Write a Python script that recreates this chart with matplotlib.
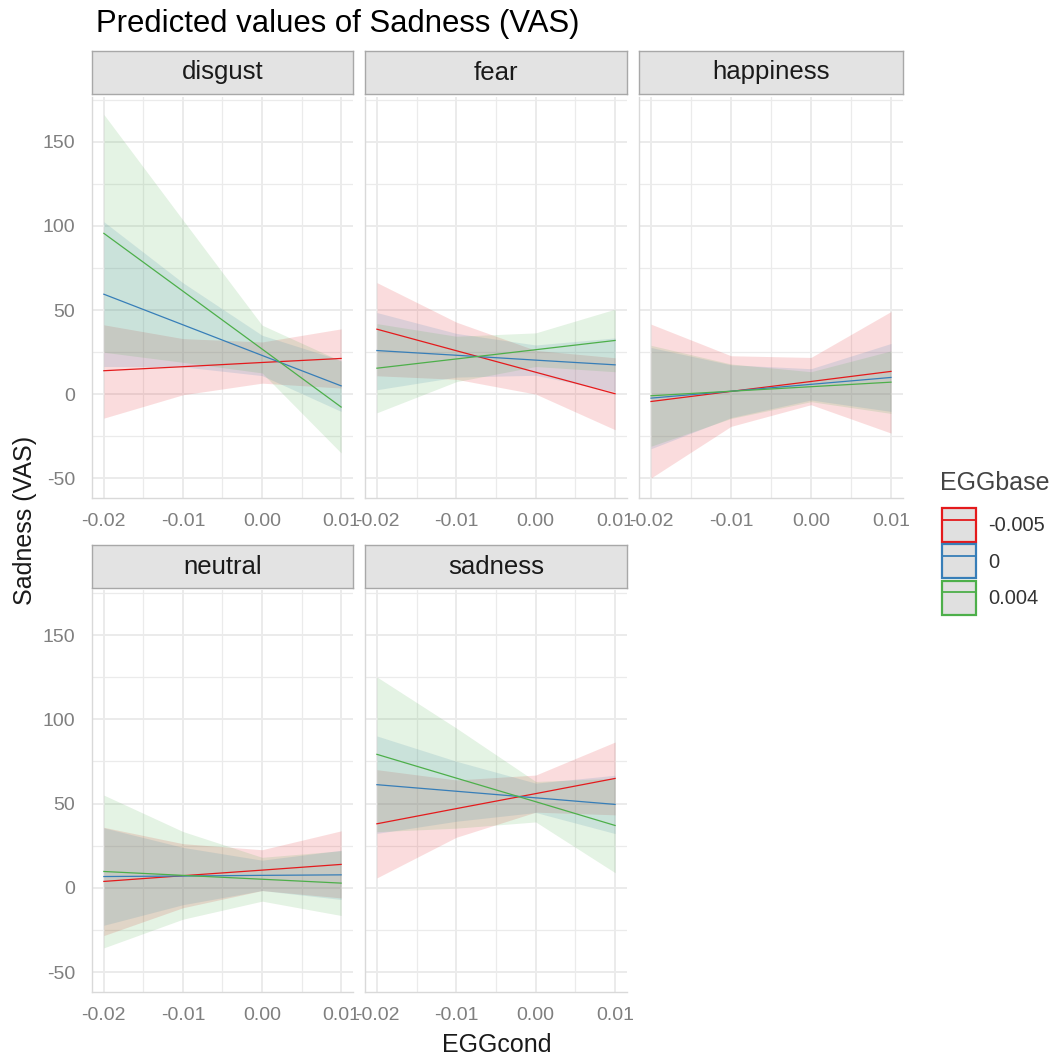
import matplotlib.pyplot as plt
from matplotlib.patches import Patch
from matplotlib.lines import Line2D
from matplotlib.legend_handler import HandlerTuple
from matplotlib.ticker import MultipleLocator

plt.rcParams['font.family'] = ['Liberation Sans', 'DejaVu Sans']
plt.rcParams['axes.unicode_minus'] = False

# EGGcond values where predictions were computed
x = [-0.02, -0.01, 0.00, 0.01]
x_ticks = [-0.02, -0.01, 0.00, 0.01]
x_labels = ['-0.02', '-0.01', '0.00', '0.01']
y_ticks = [-50, 0, 50, 100, 150]
y_labels = ['-50', '0', '50', '100', '150']

groups = ['-0.005', '0', '0.004']
colors = ['#E41A1C', '#377EB8', '#4DAF4A']
panels = ['disgust', 'fear', 'happiness', 'neutral', 'sadness']

# predicted Sadness (VAS) with lower / upper CI, one row per EGGbase level
disgust_pred = [[13.9, 16.3, 18.8, 21.2], [59.4, 41.2, 23.0, 4.9], [95.6, 61.2, 26.8, -7.7]]
disgust_low = [[-14.3, -0.4, 6.5, 3.6], [16.4, 16.2, 11.0, -10.3], [24.9, 18.9, 12.6, -35.0]]
disgust_high = [[41.2, 33.0, 31.0, 38.8], [102.5, 66.2, 35.0, 20.1], [166.3, 103.5, 41.0, 19.6]]

fear_pred = [[38.6, 25.8, 13.0, 0.2], [25.9, 23.1, 20.2, 17.4], [15.4, 20.9, 26.4, 31.9]]
fear_low = [[10.9, 8.8, 0.0, -21.2], [2.6, 10.1, 11.2, 1.4], [-11.1, 7.4, 16.4, 13.3]]
fear_high = [[66.3, 42.8, 26.0, 21.6], [48.5, 36.1, 29.2, 33.4], [41.9, 34.4, 36.4, 50.5]]

happiness_pred = [[-4.4, 1.6, 7.5, 13.5], [-2.4, 1.7, 5.8, 9.9], [-1.0, 1.7, 4.4, 7.1]]
happiness_low = [[-49.9, -19.2, -6.3, -23.2], [-32.5, -14.0, -3.5, -10.3], [-31.0, -14.5, -4.5, -11.5]]
happiness_high = [[41.6, 22.8, 21.8, 49.1], [27.7, 17.4, 15.1, 30.1], [29.0, 17.9, 13.3, 25.7]]

neutral_pred = [[3.8, 7.2, 10.5, 13.9], [6.7, 7.0, 7.4, 7.7], [9.7, 7.4, 5.1, 2.8]]
neutral_low = [[-28.3, -11.8, -1.6, -6.0], [-22.2, -10.0, -1.6, -6.9], [-35.6, -18.6, -7.9, -16.4]]
neutral_high = [[35.9, 26.2, 22.6, 33.8], [35.6, 24.0, 16.4, 22.3], [55.0, 33.4, 18.1, 22.0]]

sadness_pred = [[38.0, 47.0, 55.9, 64.9], [61.2, 57.3, 53.4, 49.5], [79.2, 65.1, 51.1, 37.0]]
sadness_low = [[5.9, 30.0, 44.9, 43.3], [32.3, 39.5, 44.7, 32.2], [33.3, 35.4, 39.1, 9.0]]
sadness_high = [[70.1, 64.0, 66.9, 86.5], [90.1, 75.1, 62.1, 66.8], [125.1, 94.8, 63.1, 65.0]]

data = {
    'disgust': (disgust_pred, disgust_low, disgust_high),
    'fear': (fear_pred, fear_low, fear_high),
    'happiness': (happiness_pred, happiness_low, happiness_high),
    'neutral': (neutral_pred, neutral_low, neutral_high),
    'sadness': (sadness_pred, sadness_low, sadness_high),
}

W, H = 1057, 1062
fig = plt.figure(figsize=(W / 100, H / 100), dpi=100)

def px_axes(l, t, r, b):
    return fig.add_axes([l / W, 1 - b / H, (r - l) / W, (b - t) / H])

cols = [(92, 353), (365, 627), (639, 903)]
rows = [(97, 498), (590, 992)]
strips = [(51, 94), (545, 588)]

tick_col = '#7f7f7f'
grid_col = '#ebebeb'

for i, name in enumerate(panels):
    r, c = divmod(i, 3)
    l, rr = cols[c]
    ax = px_axes(l, rows[r][0], rr, rows[r][1])
    pred, low, high = data[name]
    for k in range(3):
        ax.fill_between(x, low[k], high[k], color=colors[k], alpha=0.15, lw=0)
    for k in range(3):
        ax.plot(x, pred[k], color=colors[k], lw=0.9)

    ax.set_xlim(-0.0215, 0.0115)
    ax.set_ylim(-61.8, 176.7)
    ax.set_xticks(x_ticks)
    ax.set_xticklabels(x_labels)
    ax.xaxis.set_minor_locator(MultipleLocator(0.005))
    ax.set_yticks(y_ticks)
    ax.set_yticklabels(y_labels if c == 0 else [])
    ax.yaxis.set_minor_locator(MultipleLocator(25))
    ax.grid(which='major', color=grid_col, lw=1.4)
    ax.grid(which='minor', color=grid_col, lw=0.9)
    ax.set_axisbelow(True)
    ax.tick_params(which='both', length=0, labelsize=14, labelcolor=tick_col)
    ax.tick_params(axis='x', pad=11)
    ax.tick_params(axis='y', pad=12)
    for s in ['top', 'right']:
        ax.spines[s].set_visible(False)
    for s in ['left', 'bottom']:
        ax.spines[s].set_color('#d9d9d9')
        ax.spines[s].set_linewidth(1.0)

    # facet strip
    sx = px_axes(l, strips[r][0], rr, strips[r][1])
    sx.set_facecolor('#e3e3e3')
    sx.set_xticks([])
    sx.set_yticks([])
    for s in sx.spines.values():
        s.set_color('#a8a8a8')
        s.set_linewidth(1.0)
    sx.text(0.5, 0.5, name, ha='center', va='center', fontsize=18.5,
            color='#1a1a1a', transform=sx.transAxes)

fig.text(96 / W, 1 - 24 / H, 'Predicted values of Sadness (VAS)', fontsize=22.4,
         ha='left', va='center', color='black')
fig.text(25 / W, 1 - 520 / H, 'Sadness (VAS)', rotation=90, fontsize=18,
         ha='center', va='center', color='#1a1a1a')
fig.text(497 / W, 1 - 1045 / H, 'EGGcond', fontsize=18,
         ha='center', va='center', color='#1a1a1a')

# legend: title as its own text, keys are grey boxes with coloured border and line
fig.text(940 / W, 1 - 483 / H, 'EGGbase', fontsize=18, ha='left', va='center',
         color='#444444')
handles = [(Patch(facecolor='#e0e0e0', edgecolor=col, lw=1.6),
            Line2D([0], [0], color=col, lw=1.3)) for col in colors]
fig.legend(handles, groups, loc='upper left',
           bbox_to_anchor=(942 / W, 1 - 508 / H), frameon=False,
           fontsize=14.5, handlelength=1.69, handleheight=2.22,
           labelspacing=0.12, handletextpad=0.6, borderpad=0, borderaxespad=0,
           handler_map={tuple: HandlerTuple(ndivide=1, pad=0)},
           labelcolor='#333333')

fig.savefig('out.png', dpi=100)
